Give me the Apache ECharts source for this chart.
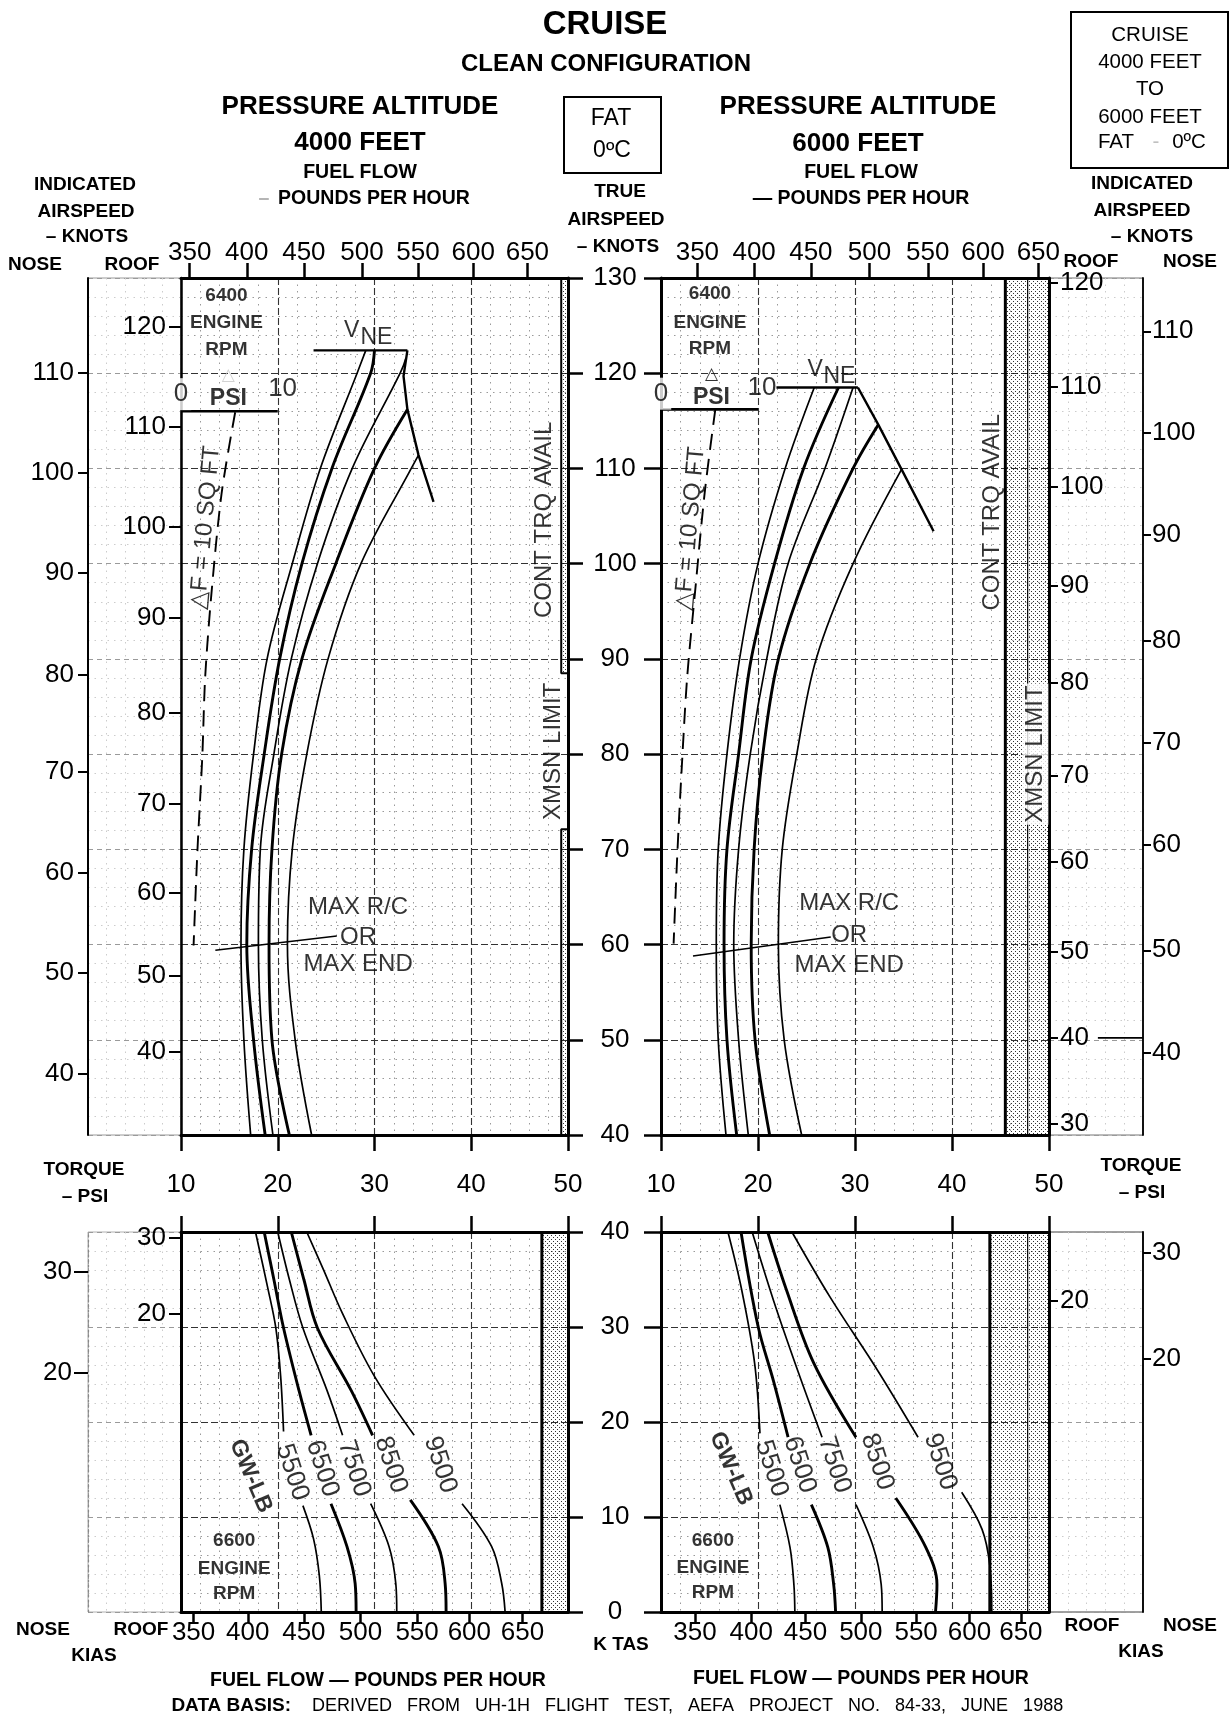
<!DOCTYPE html>
<html>
<head>
<meta charset="utf-8">
<title>Cruise - Clean Configuration</title>
<script src="https://cdn.jsdelivr.net/npm/echarts@6.0.0/dist/echarts.min.js"></script>
<style>
html,body{margin:0;padding:0;background:#fff;}
#chart{width:1232px;height:1718px;}
</style>
</head>
<body>
<div id="chart"></div>
<script>
// ---------------- DATA ----------------
const GAP = ['-', '-'];
const torqueTicks = [10, 20, 30, 40, 50];
const gwLabels = ['5500', '6500', '7500', '8500', '9500'];

// fuel flow scale (lb/hr) and the torque (psi) at which each tick sits
const fuelLabels = [350, 400, 450, 500, 550, 600, 650];
const fuelTorque4000 = [10.9, 16.8, 22.7, 28.7, 34.5, 40.2, 45.8];
const fuelTorque6000 = [13.75, 19.6, 25.45, 31.5, 37.5, 43.2, 48.9];
const fuelTorqueLow4000 = [11.3, 16.9, 22.7, 28.55, 34.4, 39.8, 45.3];
const fuelTorqueLow6000 = [13.5, 19.3, 24.9, 30.6, 36.3, 41.8, 47.1];

// indicated airspeed scales (KIAS) and the true airspeed (KTAS) they match
const kiasNose4000 = [110, 100, 90, 80, 70, 60, 50, 40];
const kiasNose4000Tas = [120.0, 109.5, 99.0, 88.3, 78.1, 67.5, 57.0, 46.4];
const kiasRoof4000 = [120, 110, 100, 90, 80, 70, 60, 50, 40];
const kiasRoof4000Tas = [124.9, 114.4, 103.9, 94.3, 84.3, 74.8, 65.4, 56.7, 48.7];
const kiasRoof6000 = [120, 110, 100, 90, 80, 70, 60, 50, 40, 30];
const kiasRoof6000Tas = [129.5, 118.6, 108.1, 97.7, 87.5, 77.7, 68.7, 59.2, 50.2, 41.2];
const kiasNose6000 = [110, 100, 90, 80, 70, 60, 50, 40];
const kiasNose6000Tas = [124.4, 113.7, 103.0, 91.9, 81.2, 70.5, 59.4, 48.6];
const kiasRoofLow4000 = [30, 20];
const kiasRoofLow4000Tas = [39.4, 31.4];
const kiasNoseLow4000 = [30, 20];
const kiasNoseLow4000Tas = [35.8, 25.2];
const kiasRoofLow6000 = [20];
const kiasRoofLow6000Tas = [32.8];
const kiasNoseLow6000 = [30, 20];
const kiasNoseLow6000Tas = [37.8, 26.7];

// cruise curves, [torque psi, KTAS], 6400 engine rpm
const c4000_5500 = [[17.2,40],[16.5,50],[16.2,60],[16.5,70],[17.5,80],[18.9,90],[21.5,100],[24.4,110],[28.2,120],[29.1,122.4]];
const c4000_6500 = [[18.7,40],[17.5,50],[16.8,60],[17.3,70],[18.6,80],[20.2,90],[22.5,100],[25.6,110],[29.6,120],[30.0,122.4]];
const c4000_7500 = [[19.5,40],[18.4,50],[18.0,60],[18.2,70],[19.6,80],[21.4,90],[24.1,100],[27.7,110],[32.65,120],[33.25,121.6]];
const c4000_8500 = [[21.2,40],[19.4,50],[19.1,60],[19.4,70],[20.4,80],[22.5,90],[26.0,100],[30.0,110],[33.4,116.2]];
const c4000_9500 = [[23.5,40],[21.8,50],[21.0,60],[21.5,70],[23.0,80],[25.2,90],[28.6,100],[33.8,110],[34.55,111.4]];
const c6000_5500 = [[16.7,40],[15.9,50],[15.7,60],[15.9,70],[16.8,80],[18.1,90],[20.0,100],[22.8,110],[25.8,118.5]];
const c6000_6500 = [[17.8,40],[16.8,50],[16.5,60],[16.8,70],[18.0,80],[19.3,90],[21.7,100],[24.7,110],[28.3,118.5]];
const c6000_7500 = [[19.0,40],[18.0,50],[17.5,60],[18.0,70],[19.2,80],[20.9,90],[23.1,100],[26.9,110],[29.8,118.5]];
const c6000_8500 = [[21.2,40],[19.7,50],[19.3,60],[19.6,70],[20.5,80],[22.1,90],[25.35,100],[29.8,110],[32.4,114.6]];
const c6000_9500 = [[24.5,40],[22.7,50],[22.1,60],[22.5,70],[24.0,80],[26.0,90],[29.8,100],[34.8,109.9]];

// low speed curves, [torque psi, KTAS], 6600 engine rpm (gaps where labels sit)
const l4000_5500 = [[17.7,40],[18.95,34.2],[19.8,29.9],[20.3,24.8],[20.6,19.0],GAP,[22.6,11.2],[23.7,7.7],[24.3,3.8],[24.5,0]];
const l4000_6500 = [[18.6,40],[19.6,35],[20.6,29.9],[22.2,23.3],[23.45,18.6],GAP,[25.5,11.4],[27.15,6.9],[28.0,3.0],[28.1,0]];
const l4000_7500 = [[20.0,40],[21.2,35],[22.6,29.9],[25.1,23.3],[26.7,18.6],GAP,[29.6,11.4],[31.5,6.9],[32.2,3.0],[32.3,0]];
const l4000_8500 = [[21.4,40],[22.7,35],[24.1,29.9],[27.6,23.3],[29.8,18.6],GAP,[33.7,11.8],[36.6,6.9],[37.3,3.0],[37.4,0]];
const l4000_9500 = [[23.0,40],[24.7,36.1],[26.7,31.4],[30.0,24.8],[34.1,18.6],GAP,[39.05,11.4],[42.1,6.9],[43.15,3.0],[43.5,0]];
const l6000_5500 = [[16.9,40],[18.3,34.0],[19.65,26.2],[20.2,18.8],GAP,[22.25,11.3],[23.3,6.8],[23.7,2.9],[23.8,0]];
const l6000_6500 = [[18.25,40],[20.0,30.1],[21.6,24.3],[23.1,18.4],GAP,[25.5,11.3],[27.2,6.8],[27.8,2.9],[28.0,0]];
const l6000_7500 = [[19.4,40],[21.6,32.8],[24.1,25.4],[26.6,18.4],GAP,[30.1,11.3],[31.9,6.8],[32.7,2.9],[32.8,0]];
const l6000_8500 = [[21.0,40],[22.9,34.0],[25.75,26.2],[30.1,18.4],GAP,[34.2,12.0],[37.3,6.8],[38.45,2.9],[38.3,0]];
const l6000_9500 = [[23.5,40],[27.4,33.2],[32.35,25.4],[36.5,18.4],GAP,[41.0,12.6],[43.1,8.7],[43.9,4.9],[44.1,0]];

// limits and reference lines
const vne4000 = [[23.7,122.4],[33.4,122.4]];
const vneLimit4000 = [[33.4,122.4],[33.0,119.7],[33.4,116.2],[34.55,111.4],[36.1,106.5]];
const vne6000 = [[21.9,118.5],[30.3,118.5]];
const vneLimit6000 = [[30.3,118.5],[32.4,114.6],[34.8,109.9],[38.1,103.4]];
const maxRC4000 = [[13.55,59.4],[26.1,60.9]];
const maxRC6000 = [[13.3,58.8],[27.5,60.8]];
const drag4000 = [[15.6,115.9],[14.2,107.4],[13.15,96.9],[12.5,88.1],[12.2,79.7],[11.7,69.9],[11.3,59.9]];
const drag6000 = [[15.6,116.2],[14.5,107.4],[13.5,96.9],[12.7,88.1],[12.2,79.7],[11.7,69.9],[11.3,60.1]];
const deltaPsiScale4000 = [[10,116.0],[20,116.0]];
const deltaPsiScale6000 = [[10,116.2],[20,116.2]];
const xmsnLimit = 50;
const contTrq4000 = 49.3;
const contTrqGap4000 = [72.1, 88.5];
const contTrq6000 = 45.5;
const lowLimit4000 = 47.3;
const lowLimit6000 = 43.9;
const bandMid6000 = 47.8;

// ---------------- CHART ----------------
const FONT = '"Liberation Sans", Arial, Helvetica, sans-serif';
const BLACK = '#000';
const chart = echarts.init(document.getElementById('chart'), null, {renderer: 'canvas'});

function lk(pos, lab) {
  return function (v) {
    for (let i = 0; i < pos.length; i++) { if (Math.abs(pos[i] - v) < 1e-6) return String(lab[i]); }
    return '';
  };
}
function dotCanvas() {
  const c = document.createElement('canvas');
  c.width = 4; c.height = 4;
  const g = c.getContext('2d');
  g.fillStyle = 'rgba(0,0,0,0.8)';
  g.fillRect(1, 1, 1, 1);
  g.fillRect(3, 3, 1, 1);
  return c;
}
const DOTS = {image: dotCanvas(), repeat: 'repeat'};

const NUM = {fontFamily: FONT, fontSize: 26, color: BLACK};
const MAJOR = {show: true, lineStyle: {color: '#333', width: 1.1, type: [7, 3]}};
const MINOR = {show: true, lineStyle: {color: '#9a9a9a', width: 1, type: [1.5, 5]}};
const EMAJOR = {show: true, lineStyle: {color: '#9a9a9a', width: 1, type: [5, 4]}};
const EMINOR = {show: true, lineStyle: {color: '#cccccc', width: 1, type: [1.5, 5]}};
const MT = {show: false, splitNumber: 5};

function gridAxis(gi, pos, min, max, o) {
  return Object.assign({
    type: 'value', gridIndex: gi, position: pos, min: min, max: max, interval: 10,
    axisLine: {show: true, onZero: false, lineStyle: {color: BLACK, width: 3}},
    axisTick: {show: true, inside: false, length: 16, lineStyle: {color: BLACK, width: 2.5}},
    axisLabel: {show: false},
    splitLine: MAJOR, minorTick: MT, minorSplitLine: MINOR
  }, o || {});
}
function extAxis(gi, pos, min, max) {
  return {
    type: 'value', gridIndex: gi, position: pos, min: min, max: max, interval: 10,
    axisLine: {show: false, onZero: false}, axisTick: {show: false}, axisLabel: {show: false},
    splitLine: EMAJOR, minorTick: MT, minorSplitLine: EMINOR
  };
}
function scaleAxis(gi, pos, min, max, vals, labs, o) {
  o = o || {};
  return {
    type: 'value', gridIndex: gi, position: pos, min: min, max: max,
    axisLine: Object.assign({show: false, onZero: false}, o.line || {}),
    axisTick: {show: true, inside: false, length: o.tick || 10, lineStyle: {color: BLACK, width: o.tickW || 2}, customValues: vals},
    axisLabel: Object.assign({show: true, customValues: vals, formatter: lk(vals, labs), margin: o.margin || 12}, NUM, o.label || {}),
    splitLine: {show: false}, minorTick: {show: false}, minorSplitLine: {show: false}
  };
}
const G = function (left, top, width, height, extra) {
  return Object.assign({left: left, top: top, width: width, height: height, containLabel: false, outerBoundsMode: 'none'}, extra || {});
};

const grids = [
  G(181, 278, 387, 857),                                                   // 0 upper 4000
  G(88, 278, 93, 857, {show: true, borderColor: '#9a9a9a', borderWidth: 1}),   // 1 nose strip
  G(661, 278, 388, 857),                                                   // 2 upper 6000
  G(1049, 278, 94, 857, {show: true, borderColor: '#777', borderWidth: 1}),    // 3 nose strip
  G(181, 1232, 387, 380),                                                  // 4 lower 4000
  G(88, 1232, 93, 380, {show: true, borderColor: '#b0b0b0', borderWidth: 1}),  // 5
  G(661, 1232, 388, 380),                                                  // 6 lower 6000
  G(1049, 1232, 94, 380, {show: true, borderColor: '#444', borderWidth: 1.2})  // 7
];

const THICKLINE = {show: true, lineStyle: {color: BLACK, width: 3}};
const xAxes = [
  gridAxis(0, 'bottom', 10, 50),                                                                       // 0
  scaleAxis(0, 'top', 10, 50, fuelTorque4000, fuelLabels, {line: THICKLINE, tick: 15, tickW: 2.5, margin: 12}), // 1
  extAxis(1, 'bottom', 0, 10),                                                                         // 2
  gridAxis(2, 'bottom', 10, 50),                                                                       // 3
  scaleAxis(2, 'top', 10, 50, fuelTorque6000, fuelLabels, {line: THICKLINE, tick: 15, tickW: 2.5, margin: 12}), // 4
  extAxis(3, 'bottom', 50, 60),                                                                        // 5
  gridAxis(4, 'top', 10, 50, {axisLabel: Object.assign({show: true, margin: 34}, NUM)}),               // 6
  scaleAxis(4, 'bottom', 10, 50, fuelTorqueLow4000, fuelLabels, {line: THICKLINE, tick: 11, tickW: 2.5, margin: 8}), // 7
  extAxis(5, 'bottom', 0, 10),                                                                         // 8
  gridAxis(6, 'top', 10, 50, {axisLabel: Object.assign({show: true, margin: 34}, NUM)}),               // 9
  scaleAxis(6, 'bottom', 10, 50, fuelTorqueLow6000, fuelLabels, {line: THICKLINE, tick: 11, tickW: 2.5, margin: 8}), // 10
  extAxis(7, 'bottom', 50, 60)                                                                         // 11
];
const yAxes = [
  gridAxis(0, 'right', 40, 130, {axisTick: {show: true, length: 15, lineStyle: {color: BLACK, width: 2.5}}}),   // 0
  scaleAxis(0, 'left', 40, 130, kiasRoof4000Tas, kiasRoof4000, {line: {show: true, lineStyle: {color: BLACK, width: 2.5}}, tick: 12, margin: 15}), // 1
  scaleAxis(1, 'left', 40, 130, kiasNose4000Tas, kiasNose4000, {line: {show: true, lineStyle: {color: BLACK, width: 2}}, tick: 10, margin: 14}), // 2
  extAxis(1, 'right', 40, 130),                                                                        // 3
  gridAxis(2, 'left', 40, 130, {axisTick: {show: true, length: 17, lineStyle: {color: BLACK, width: 2.5}},
    axisLabel: Object.assign({show: true, margin: 46, align: 'center'}, NUM)}),                        // 4
  scaleAxis(2, 'right', 40, 130, kiasRoof6000Tas, kiasRoof6000, {line: THICKLINE, tick: 9, margin: 11}), // 5
  scaleAxis(3, 'right', 40, 130, kiasNose6000Tas, kiasNose6000, {line: {show: true, lineStyle: {color: BLACK, width: 1.8}}, tick: 8, margin: 9}), // 6
  extAxis(3, 'left', 40, 130),                                                                         // 7
  gridAxis(4, 'right', 0, 40, {axisTick: {show: true, length: 15, lineStyle: {color: BLACK, width: 2.5}}}),     // 8
  scaleAxis(4, 'left', 0, 40, kiasRoofLow4000Tas, kiasRoofLow4000, {line: THICKLINE, tick: 12, margin: 15}),  // 9
  scaleAxis(5, 'left', 0, 40, kiasNoseLow4000Tas, kiasNoseLow4000, {line: {show: true, lineStyle: {color: '#888', width: 1.2, type: [2, 3]}}, tick: 14, margin: 16}), // 10
  extAxis(5, 'right', 0, 40),                                                                          // 11
  gridAxis(6, 'left', 0, 40, {axisTick: {show: true, length: 17, lineStyle: {color: BLACK, width: 2.5}},
    axisLabel: Object.assign({show: true, margin: 46, align: 'center'}, NUM)}),                        // 12
  scaleAxis(6, 'right', 0, 40, kiasRoofLow6000Tas, kiasRoofLow6000, {line: THICKLINE, tick: 9, margin: 11}), // 13
  scaleAxis(7, 'right', 0, 40, kiasNoseLow6000Tas, kiasNoseLow6000, {line: {show: true, lineStyle: {color: BLACK, width: 1.8}}, tick: 8, margin: 9}), // 14
  extAxis(7, 'left', 0, 40)                                                                            // 15
];

// ---- series ----
const series = [];
const THIN = 1.7, THICK = 2.9;
const gwWidths = [THIN, THICK, THIN, THICK, THIN];
function addLine(data, xi, yi, w, smooth, extra) {
  series.push(Object.assign({
    type: 'line', data: data, xAxisIndex: xi, yAxisIndex: yi, symbol: 'none', showSymbol: false,
    smooth: smooth, connectNulls: false, silent: true, animation: false, z: 5,
    lineStyle: {color: BLACK, width: w}
  }, extra || {}));
}
function addBand(xi, yi, edge, w, areas) {
  series.push({
    type: 'line', data: edge, xAxisIndex: xi, yAxisIndex: yi, symbol: 'none', showSymbol: false,
    connectNulls: false, silent: true, animation: false, z: 4, lineStyle: {color: BLACK, width: w},
    markArea: {silent: true, label: {show: false}, itemStyle: {color: DOTS, borderWidth: 0},
      data: areas.map(function (a) { return [{coord: [a[0], a[1]]}, {coord: [a[2], a[3]]}]; })}
  });
}
function textSeries(xi, yi, items) {
  series.push({
    type: 'scatter', xAxisIndex: xi, yAxisIndex: yi, symbolSize: 1, silent: true, animation: false, z: 30, clip: false,
    itemStyle: {color: 'rgba(0,0,0,0)'},
    data: items.map(function (it) {
      return {value: [it[1], it[2]], label: Object.assign({show: true, position: 'inside', formatter: it[0], color: BLACK,
        fontFamily: FONT, fontSize: 24, fontWeight: 'normal'}, it[3] || {})};
    })
  });
}

// upper 4000 ft
[c4000_5500, c4000_6500, c4000_7500, c4000_8500, c4000_9500].forEach(function (d, i) { addLine(d, 0, 0, gwWidths[i], 0.35); });
addLine(vne4000, 0, 0, 2.4, false);
addLine(vneLimit4000, 0, 0, 2.4, false);
addLine(maxRC4000, 0, 0, 1.6, false);
addLine(drag4000, 0, 0, 1.9, 0.3, {lineStyle: {color: BLACK, width: 1.9, type: [16, 9]}});
addLine(deltaPsiScale4000, 0, 0, 2.6, false);
addBand(0, 0, [[contTrq4000,130],[contTrq4000,contTrqGap4000[1]],[xmsnLimit,contTrqGap4000[1]],GAP,
  [xmsnLimit,contTrqGap4000[0]],[contTrq4000,contTrqGap4000[0]],[contTrq4000,40]], 2,
  [[contTrq4000, contTrqGap4000[1], xmsnLimit, 130], [contTrq4000, 40, xmsnLimit, contTrqGap4000[0]]]);

// upper 6000 ft
[c6000_5500, c6000_6500, c6000_7500, c6000_8500, c6000_9500].forEach(function (d, i) { addLine(d, 3, 4, gwWidths[i], 0.35); });
addLine(vne6000, 3, 4, 2.4, false);
addLine(vneLimit6000, 3, 4, 2.4, false);
addLine(maxRC6000, 3, 4, 1.6, false);
addLine(drag6000, 3, 4, 1.9, 0.3, {lineStyle: {color: BLACK, width: 1.9, type: [16, 9]}});
addLine(deltaPsiScale6000, 3, 4, 2.6, false);
addLine([[bandMid6000,40],[bandMid6000,130]], 3, 4, 1.2, false);
addBand(3, 4, [[contTrq6000,40],[contTrq6000,130]], 3, [[contTrq6000, 40, xmsnLimit, 130]]);
addLine([[55.2,50.2],[60,50.2]], 5, 7, 1.6, false);

// lower 4000 ft
[l4000_5500, l4000_6500, l4000_7500, l4000_8500, l4000_9500].forEach(function (d, i) { addLine(d, 6, 8, gwWidths[i], 0.35); });
addBand(6, 8, [[lowLimit4000,0],[lowLimit4000,40]], 3, [[lowLimit4000, 0, xmsnLimit, 40]]);

// lower 6000 ft
[l6000_5500, l6000_6500, l6000_7500, l6000_8500, l6000_9500].forEach(function (d, i) { addLine(d, 9, 12, gwWidths[i], 0.35); });
addLine([[bandMid6000,0],[bandMid6000,40]], 9, 12, 1.2, false);
addBand(9, 12, [[lowLimit6000,0],[lowLimit6000,40]], 3, [[lowLimit6000, 0, xmsnLimit, 40]]);

// ---- annotations anchored to data coordinates ----
const B19 = {fontWeight: 'bold', fontSize: 19};
const R26 = {fontSize: 26};
const ZERO = {fontSize: 26, backgroundColor: '#fff', padding: [3, 3, 3, 3]};
const TRI = {fontFamily: '"DejaVu Sans", sans-serif', fontSize: 17};
textSeries(0, 0, [
  ['6400', 14.7, 128.1, B19], ['ENGINE', 14.7, 125.3, B19], ['RPM', 14.7, 122.5, B19],
  ['0', 10.0, 117.8, ZERO], ['10', 20.5, 118.4, R26],
  ['PSI', 14.9, 117.3, {fontWeight: 'bold', fontSize: 23}],
  ['\u25B3', 14.9, 119.8, Object.assign({color: '#c8c8c8'}, TRI)],
  ['V', 27.65, 124.5, {fontSize: 23}], ['NE', 30.2, 123.7, {fontSize: 23}],
  ['\u25B3F = 10 SQ FT', 12.5, 103.8, {fontSize: 24, rotate: 85}],
  ['CONT TRQ AVAIL', 47.6, 104.6, {fontSize: 24, rotate: 90}],
  ['XMSN LIMIT', 48.45, 80.3, {fontSize: 24, rotate: 90}],
  ['MAX R/C', 28.3, 63.9], ['OR', 28.3, 60.8], ['MAX END', 28.3, 57.9]
]);
textSeries(3, 4, [
  ['6400', 15.05, 128.3, B19], ['ENGINE', 15.05, 125.3, B19], ['RPM', 15.05, 122.6, B19],
  ['0', 10.0, 117.85, ZERO], ['10', 20.4, 118.5, R26],
  ['PSI', 15.2, 117.4, {fontWeight: 'bold', fontSize: 23}],
  ['\u25B3', 15.2, 119.9, TRI],
  ['V', 25.9, 120.4, {fontSize: 23}], ['NE', 28.4, 119.6, {fontSize: 23}],
  ['\u25B3F = 10 SQ FT', 13.0, 103.7, {fontSize: 24, rotate: 85}],
  ['CONT TRQ AVAIL', 44.2, 105.4, {fontSize: 24, rotate: 90}],
  ['XMSN LIMIT', 48.6, 80.0, {fontSize: 24, rotate: 90, backgroundColor: '#fff', padding: [1, 2, 1, 2]}],
  ['MAX R/C', 29.4, 64.3], ['OR', 29.4, 61.0], ['MAX END', 29.4, 57.8]
]);
const GWL = {fontSize: 26, rotate: -72};
const GWB = {fontSize: 23, fontWeight: 'bold', rotate: -67};
textSeries(6, 8, [
  ['GW-LB', 17.2, 14.3, GWB],
  [gwLabels[0], 21.5, 14.7, GWL], [gwLabels[1], 24.6, 15.1, GWL], [gwLabels[2], 27.9, 15.1, GWL],
  [gwLabels[3], 31.7, 15.5, GWL], [gwLabels[4], 36.8, 15.5, GWL],
  ['6600', 15.5, 7.5, B19], ['ENGINE', 15.5, 4.6, B19], ['RPM', 15.5, 1.9, B19]
]);
textSeries(9, 12, [
  ['GW-LB', 17.2, 15.1, GWB],
  [gwLabels[0], 21.4, 15.1, GWL], [gwLabels[1], 24.3, 15.5, GWL], [gwLabels[2], 27.9, 15.5, GWL],
  [gwLabels[3], 32.3, 15.8, GWL], [gwLabels[4], 38.8, 15.8, GWL],
  ['6600', 15.35, 7.5, B19], ['ENGINE', 15.35, 4.7, B19], ['RPM', 15.35, 2.0, B19]
]);

// ---- page texts (layout) ----
function T(text, x, y, size, bold, align, color) {
  return {type: 'text', x: x, y: y, z: 100, silent: true,
    style: {text: text, fill: color || BLACK, font: (bold ? 'bold ' : '') + size + 'px ' + FONT,
      align: align || 'center', verticalAlign: 'middle', textAlign: align || 'center', textVerticalAlign: 'middle'}};
}
const graphic = [
  T('CRUISE', 605, 25, 33, true),
  T('CLEAN CONFIGURATION', 606, 64, 24, true),
  T('PRESSURE ALTITUDE', 360, 107, 26, true),
  T('4000 FEET', 360, 143, 26, true),
  T('FUEL FLOW', 360, 173, 19.5, true),
  T('\u2013', 264, 199, 19.5, true, 'center', '#b5b5b5'),
  T('POUNDS PER HOUR', 374, 199, 19.5, true),
  T('PRESSURE ALTITUDE', 858, 107, 26, true),
  T('6000 FEET', 858, 144, 26, true),
  T('FUEL FLOW', 861, 173, 19.5, true),
  T('\u2014 POUNDS PER HOUR', 861, 199, 19.5, true),
  {type: 'rect', z: 100, silent: true, shape: {x: 564, y: 97, width: 97, height: 76}, style: {fill: 'none', stroke: BLACK, lineWidth: 2}},
  T('FAT', 611, 119, 23, false),
  T('0\u00BAC', 612, 151, 23, false),
  {type: 'rect', z: 100, silent: true, shape: {x: 1071, y: 12, width: 157, height: 156}, style: {fill: 'none', stroke: BLACK, lineWidth: 2}},
  T('CRUISE', 1150, 35, 20.5, false),
  T('4000 FEET', 1150, 62, 20.5, false),
  T('TO', 1150, 89, 20.5, false),
  T('6000 FEET', 1150, 117, 20.5, false),
  T('FAT', 1116, 142, 20.5, false),
  T('-', 1156, 142, 20.5, false, 'center', '#c0c0c0'),
  T('0\u00BAC', 1189, 142, 20.5, false),
  T('INDICATED', 85, 185, 19, true),
  T('AIRSPEED', 86, 212, 19, true),
  T('\u2013 KNOTS', 87, 237, 19, true),
  T('NOSE', 35, 265, 19, true),
  T('ROOF', 132, 265, 19, true),
  T('TRUE', 620, 192, 19, true),
  T('AIRSPEED', 616, 220, 19, true),
  T('\u2013 KNOTS', 618, 247, 19, true),
  T('INDICATED', 1142, 184, 19, true),
  T('AIRSPEED', 1142, 211, 19, true),
  T('\u2013 KNOTS', 1152, 237, 19, true),
  T('ROOF', 1091, 262, 19, true),
  T('NOSE', 1190, 262, 19, true),
  T('TORQUE', 84, 1170, 19, true),
  T('\u2013 PSI', 85, 1197, 19, true),
  T('TORQUE', 1141, 1166, 19, true),
  T('\u2013 PSI', 1142, 1193, 19, true),
  T('NOSE', 43, 1630, 19, true),
  T('ROOF', 141, 1630, 19, true),
  T('KIAS', 94, 1656, 19, true),
  T('K TAS', 621, 1645, 19, true),
  T('ROOF', 1092, 1626, 19, true),
  T('NOSE', 1190, 1626, 19, true),
  T('KIAS', 1141, 1652, 19, true),
  T('FUEL FLOW \u2014 POUNDS PER HOUR', 378, 1681, 19.5, true),
  T('FUEL FLOW \u2014 POUNDS PER HOUR', 861, 1679, 19.5, true),
  T('DATA BASIS:', 291, 1706, 19, true, 'right'),
  T('DERIVED   FROM   UH-1H   FLIGHT   TEST,   AEFA   PROJECT   NO.   84-33,   JUNE   1988', 312, 1706, 18, false, 'left')
];

chart.setOption({
  animation: false,
  backgroundColor: '#fff',
  textStyle: {fontFamily: FONT},
  grid: grids,
  xAxis: xAxes,
  yAxis: yAxes,
  series: series,
  graphic: graphic
});
</script>
</body>
</html>
